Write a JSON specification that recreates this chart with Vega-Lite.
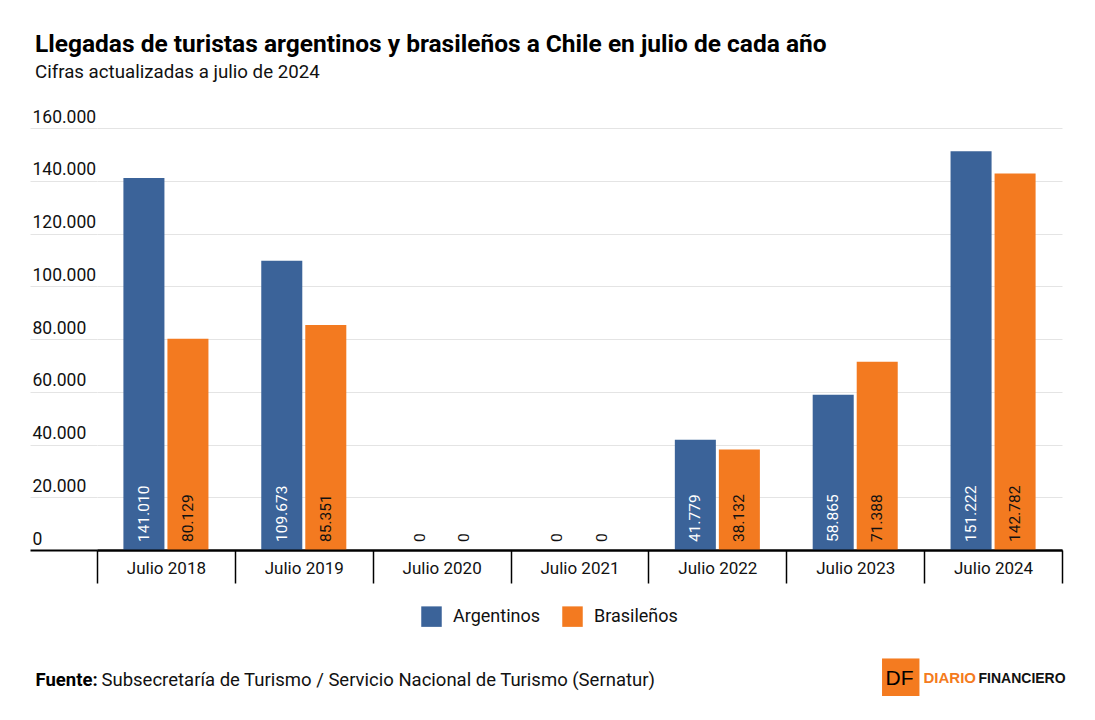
{
  "$schema": "https://vega.github.io/schema/vega-lite/v6.json",
  "width": 965,
  "height": 422,
  "autosize": "none",
  "padding": {"left": 97, "top": 128, "right": 33, "bottom": 170},
  "background": "white",
  "config": {
    "view": {"stroke": null},
    "font": "Roboto",
    "locale": {"number": {"decimal": ",", "thousands": ".", "grouping": [3], "currency": ["$", ""]}}
  },
  "title": {
    "text": "Llegadas de turistas argentinos y brasileños a Chile en julio de cada año",
    "subtitle": "Cifras actualizadas a julio de 2024",
    "anchor": "start",
    "frame": "group",
    "dx": -62,
    "offset": 25,
    "font": "Roboto",
    "fontSize": 24.5,
    "fontWeight": "bold",
    "color": "#000000",
    "subtitleFont": "Roboto",
    "subtitleFontSize": 18.7,
    "subtitleColor": "#111111",
    "subtitlePadding": 6
  },
  "data": {
    "values": [
      {"periodo": "Julio 2018", "grupo": "Argentinos", "turistas": 141010},
      {"periodo": "Julio 2018", "grupo": "Brasileños", "turistas": 80129},
      {"periodo": "Julio 2019", "grupo": "Argentinos", "turistas": 109673},
      {"periodo": "Julio 2019", "grupo": "Brasileños", "turistas": 85351},
      {"periodo": "Julio 2020", "grupo": "Argentinos", "turistas": 0},
      {"periodo": "Julio 2020", "grupo": "Brasileños", "turistas": 0},
      {"periodo": "Julio 2021", "grupo": "Argentinos", "turistas": 0},
      {"periodo": "Julio 2021", "grupo": "Brasileños", "turistas": 0},
      {"periodo": "Julio 2022", "grupo": "Argentinos", "turistas": 41779},
      {"periodo": "Julio 2022", "grupo": "Brasileños", "turistas": 38132},
      {"periodo": "Julio 2023", "grupo": "Argentinos", "turistas": 58865},
      {"periodo": "Julio 2023", "grupo": "Brasileños", "turistas": 71388},
      {"periodo": "Julio 2024", "grupo": "Argentinos", "turistas": 151222},
      {"periodo": "Julio 2024", "grupo": "Brasileños", "turistas": 142782}
    ]
  },
  "resolve": {"axis": {"x": "independent", "y": "independent"}},
  "layer": [
    {
      "mark": {"type": "bar"},
      "encoding": {
        "x": {
          "field": "periodo", "type": "nominal", "sort": null,
          "scale": {"paddingInner": 0, "paddingOuter": 0},
          "axis": {
            "orient": "bottom",
            "zindex": 1,
            "domainColor": "#000000", "domainWidth": 2,
            "tickBand": "extent", "tickSize": 33, "tickColor": "#000000", "tickWidth": 1.5,
            "labelAngle": 0, "labelFontSize": 17, "labelColor": "#111111", "labelPadding": -23, "labelBaseline": "top",
            "labelFont": "Roboto",
            "title": "Subsecretaría de Turismo / Servicio Nacional de Turismo (Sernatur)",
            "titleFont": "Roboto", "titleFontSize": 18.5, "titleFontWeight": "normal", "titleColor": "#111111",
            "titleAlign": "left", "titleBaseline": "alphabetic", "titleAnchor": "start", "titleX": 4, "titleY": 135
          }
        },
        "xOffset": {
          "field": "grupo", "type": "nominal",
          "scale": {"paddingInner": 0.068, "paddingOuter": 0.6}
        },
        "y": {
          "field": "turistas", "type": "quantitative",
          "scale": {"domain": [0, 160000], "nice": false},
          "axis": {
            "orient": "left",
            "values": [0, 20000, 40000, 60000, 80000, 100000, 120000, 140000, 160000],
            "format": ",d",
            "domain": false,
            "grid": true,
            "gridColor": {"condition": {"test": "datum.value === 0", "value": "#000000"}, "value": "#e4e4e4"},
            "gridWidth": {"condition": {"test": "datum.value === 0", "value": 2}, "value": 1},
            "tickSize": 67,
            "tickColor": {"condition": {"test": "datum.value === 0", "value": "#000000"}, "value": "#e4e4e4"},
            "tickWidth": {"condition": {"test": "datum.value === 0", "value": 2}, "value": 1},
            "labelAlign": "left", "labelBaseline": "alphabetic", "labelOffset": -6, "labelPadding": -2,
            "labelFontSize": 17.5, "labelColor": "#111111",
            "labelFont": "Roboto",
            "title": "Fuente:",
            "titleAngle": 0, "titleFont": "Roboto", "titleFontSize": 18.5, "titleFontWeight": "bold", "titleColor": "#000000",
            "titleAlign": "left", "titleBaseline": "alphabetic", "titleAnchor": "start", "titleX": -62, "titleY": 557
          }
        },
        "color": {
          "field": "grupo", "type": "nominal",
          "scale": {"domain": ["Argentinos", "Brasileños"], "range": ["#3b6399", "#f37a20"]},
          "legend": {
            "orient": "none", "legendX": 324, "legendY": 478, "direction": "horizontal",
            "title": null, "symbolType": "square", "symbolSize": 420, "symbolStrokeWidth": 0,
            "labelFontSize": 18, "labelFont": "Roboto", "labelColor": "#111111",
            "labelOffset": 11, "columnPadding": 21
          }
        }
      }
    },
    {
      "transform": [{"filter": "datum.grupo === 'Argentinos'"}],
      "mark": {"type": "text", "angle": 270, "align": "left", "baseline": "middle", "dx": 8, "fontSize": 15.5, "font": "Roboto"},
      "encoding": {
        "x": {
          "field": "periodo", "type": "nominal", "sort": null,
          "axis": {
            "orient": "bottom", "labels": false, "ticks": false, "domain": false, "grid": false,
            "title": "■", "titleFont": "DejaVu Sans", "titleFontSize": 49, "titleFontWeight": "normal", "titleColor": "#f47b20",
            "titleAlign": "left", "titleBaseline": "alphabetic", "titleAnchor": "start", "titleX": 780, "titleY": 139
          }
        },
        "xOffset": {"field": "grupo", "type": "nominal"},
        "y": {
          "datum": 0, "type": "quantitative",
          "axis": {
            "orient": "left", "labels": false, "ticks": false, "domain": false, "grid": false,
            "title": "DF", "titleAngle": 0, "titleFont": "Liberation Sans", "titleFontSize": 21, "titleFontWeight": "normal", "titleColor": "#000000",
            "titleAlign": "left", "titleBaseline": "alphabetic", "titleAnchor": "start", "titleX": 788, "titleY": 556
          }
        },
        "text": {"field": "turistas", "type": "quantitative", "format": ",d"},
        "color": {"condition": {"test": "datum.turistas > 0", "value": "#ffffff"}, "value": "#111111"}
      }
    },
    {
      "transform": [{"filter": "datum.grupo === 'Brasileños'"}],
      "mark": {"type": "text", "angle": 270, "align": "left", "baseline": "middle", "dx": 8, "fontSize": 15.5, "font": "Roboto"},
      "encoding": {
        "x": {
          "field": "periodo", "type": "nominal", "sort": null,
          "axis": {
            "orient": "bottom", "labels": false, "ticks": false, "domain": false, "grid": false,
            "title": "DIARIO", "titleFont": "Liberation Sans", "titleFontSize": 15, "titleFontWeight": "bold", "titleColor": "#f47b20",
            "titleAlign": "left", "titleBaseline": "alphabetic", "titleAnchor": "start", "titleX": 826, "titleY": 132
          }
        },
        "xOffset": {"field": "grupo", "type": "nominal"},
        "y": {
          "datum": 0, "type": "quantitative",
          "axis": {
            "orient": "left", "labels": false, "ticks": false, "domain": false, "grid": false,
            "title": "FINANCIERO", "titleAngle": 0, "titleFont": "Liberation Sans", "titleFontSize": 14, "titleFontWeight": "bold", "titleColor": "#111111",
            "titleAlign": "left", "titleBaseline": "alphabetic", "titleAnchor": "start", "titleX": 881, "titleY": 554
          }
        },
        "text": {"field": "turistas", "type": "quantitative", "format": ",d"},
        "color": {"value": "#111111"}
      }
    }
  ]
}
